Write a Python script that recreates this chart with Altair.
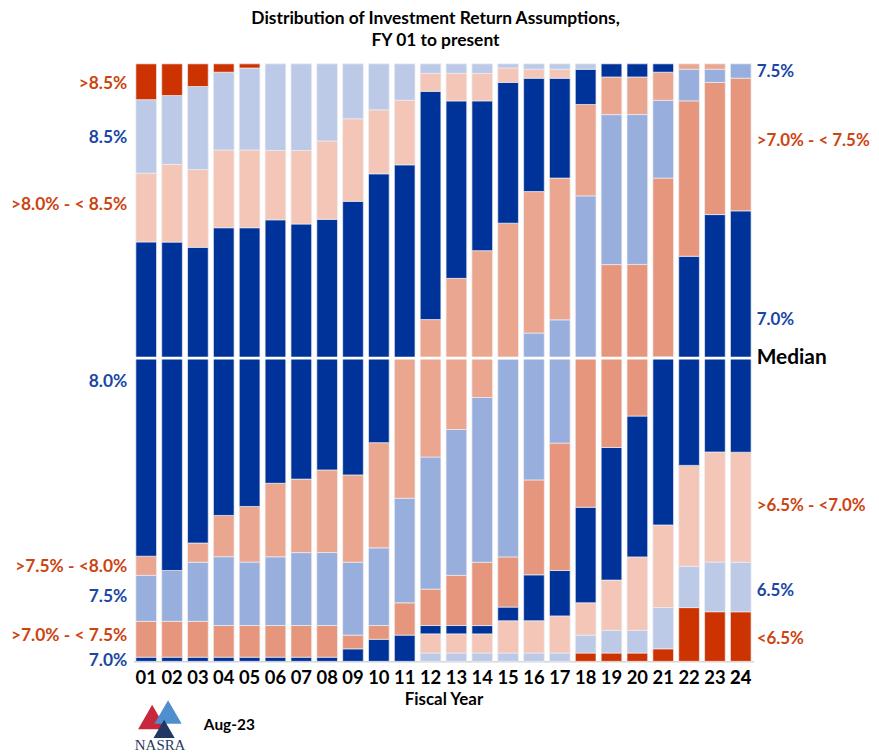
import altair as alt
import pandas as pd

years = [f"{i:02d}" for i in range(1, 25)]

categories = ["<6.5%", "6.5%", ">6.5% - <7.0%", "7.0%", ">7.0% - <7.5%", "7.5%",
              ">7.5% - <8.0%", "8.0%", ">8.0% - <8.5%", "8.5%", ">8.5%"]
cat_colors = ["#CC3300", "#BCCAE8", "#F3C6B7", "#003399", "#E6967C", "#98AEDD",
              "#EBA68F", "#003399", "#F3C6B7", "#BCCAE8", "#CC3300"]

# share of plans (%) by fiscal year 01..24
lt65 = [0] * 17 + [1.4, 1.4, 1.4, 2.1, 9.0, 8.3, 8.3]
r65 = [0] * 11 + [1.4, 1.4, 1.4, 1.4, 1.4, 1.4, 3.0, 3.8, 3.8, 6.9, 6.9, 8.3, 8.3]
r65_70 = [0] * 11 + [3.2, 3.2, 3.2, 5.4, 5.4, 6.2, 5.4, 8.4, 12.3, 13.8, 16.9, 18.4, 18.4]
r70 = [0.7] * 8 + [2.1, 3.7, 4.4, 1.4, 1.4, 1.4, 2.3, 7.7, 7.6, 16.0, 22.2, 23.6, 28.1, 35.0, 39.7, 40.4]
r70_75 = [6.0, 6.0, 6.0, 5.3, 5.3, 5.3, 5.3, 5.3, 2.3, 2.3, 5.4, 6.1, 8.4, 10.6, 8.4, 15.9, 21.3,
          25.0, 30.6, 25.4, 29.9, 26.0, 22.1, 22.2]
r75 = [7.7, 8.5, 9.9, 11.5, 10.6, 11.5, 12.2, 12.2, 12.2, 13.0, 17.5, 22.1, 24.4, 27.6, 33.2, 24.6,
       20.6, 27.1, 25.1, 25.1, 13.0, 5.3, 2.2, 2.4]
r75_80 = [3.2, 0, 3.2, 6.9, 9.3, 12.3, 12.3, 13.8, 14.6, 17.6, 23.5, 23.0, 25.3, 24.6, 22.7, 23.7,
          23.7, 15.3, 6.3, 6.3, 4.7, 0.9, 0.9, 0]
r80 = [52.6, 54.9, 49.5, 48.1, 46.6, 44.1, 42.7, 41.9, 45.8, 45.0, 32.3, 38.2, 29.7, 25.1, 23.6,
       19.0, 16.7, 5.9, 2.2, 2.2, 1.4, 0, 0, 0]
r80_85 = [11.5, 13.0, 13.0, 13.0, 13.0, 11.6, 12.3, 13.1, 13.8, 10.7, 10.8, 3.0, 4.6, 4.6, 2.4,
          1.5, 1.5, 0, 0, 0, 0, 0, 0, 0]
r85 = [12.3, 11.5, 13.9, 13.0, 13.7, 14.5, 14.5, 12.9, 9.2, 7.7, 6.1, 1.6, 1.6, 1.6, 0.7, 0.9, 0.9,
       0.9, 0, 0, 0, 0, 0, 0]
gt85 = [6.0, 5.3, 3.8, 1.4, 0.7] + [0] * 19

series = [lt65, r65, r65_70, r70, r70_75, r75, r75_80, r80, r80_85, r85, gt85]

left_labels = [">8.5%", "8.5%", ">8.0% - < 8.5%", "8.0%", ">7.5% - <8.0%", "7.5%", ">7.0% - < 7.5%", "7.0%"]
left_pos = [0.966, 0.876, 0.763, 0.468, 0.158, 0.107, 0.042, 0.0]
left_cols = ["#CC4411", "#1A47A3", "#CC4411", "#1A47A3", "#CC4411", "#1A47A3", "#CC4411", "#1A47A3"]

right_labels = ["7.5%", ">7.0% - < 7.5%", "7.0%", ">6.5% - <7.0%", "6.5%", "<6.5%"]
right_pos = [0.986, 0.871, 0.571, 0.260, 0.117, 0.038]
right_cols = ["#1A47A3", "#CC4411", "#1A47A3", "#CC4411", "#1A47A3", "#CC4411"]

median_pos = 0.5075

rows = []
for ci, (cat, vals) in enumerate(zip(categories, series)):
    for yr, v in zip(years, vals):
        if v > 0:
            rows.append({"year": yr, "cat": cat, "idx": ci, "value": v})
df = pd.DataFrame(rows)

FONT = "Lato"
yscale = alt.Scale(domain=[0, 1], nice=False, zero=True)

bars = alt.Chart(df).mark_bar(stroke="#EDEDF2", strokeWidth=0.7).encode(
    x=alt.X("year:N", sort=years,
            scale=alt.Scale(paddingInner=0.2, paddingOuter=0.1),
            axis=alt.Axis(title="Fiscal Year", labelAngle=0, labelFont=FONT, labelFontSize=18.5,
                          labelFontWeight={"condition": {"test": "datum.value == '24'", "value": 900},
                                           "value": "bold"},
                          labelColor="black", ticks=False, domainColor="#BFBFBF", domainWidth=1,
                          labelPadding=7, titleFont=FONT, titleFontSize=17, titleFontWeight="bold",
                          titleColor="black", titlePadding=5)),
    y=alt.Y("value:Q", stack="normalize", scale=yscale, axis=None),
    color=alt.Color("cat:N", scale=alt.Scale(domain=categories, range=cat_colors), legend=None),
    order=alt.Order("idx:Q", sort="ascending"),
)

median = alt.Chart(pd.DataFrame({"m": [median_pos]})).mark_rule(color="white", strokeWidth=3).encode(
    y=alt.Y("m:Q", scale=yscale, axis=None)
)

ldf = pd.DataFrame({"label": left_labels, "pos": left_pos, "col": left_cols})
rdf = pd.DataFrame({"label": right_labels, "pos": right_pos, "col": right_cols})

left_text = alt.Chart(ldf).mark_text(align="right", baseline="middle", font=FONT, fontSize=17.5,
                                     fontWeight="bold").encode(
    x=alt.value(-6),
    y=alt.Y("pos:Q", scale=yscale, axis=None),
    text="label:N",
    color=alt.Color("col:N", scale=None),
)
right_text = alt.Chart(rdf).mark_text(align="left", baseline="middle", font=FONT, fontSize=17,
                                      fontWeight="bold").encode(
    x=alt.value(627),
    y=alt.Y("pos:Q", scale=yscale, axis=None),
    text="label:N",
    color=alt.Color("col:N", scale=None),
)
median_text = alt.Chart(pd.DataFrame({"t": ["Median"], "pos": [median_pos]})).mark_text(
    align="left", baseline="middle", font=FONT, fontSize=21, fontWeight="bold", color="black"
).encode(x=alt.value(627), y=alt.Y("pos:Q", scale=yscale, axis=None), text="t:N")

title1 = alt.Chart(pd.DataFrame({"t": ["Distribution of Investment Return Assumptions,"]})).mark_text(
    align="center", baseline="middle", font=FONT, fontSize=17.5, fontWeight="bold", color="black"
).encode(x=alt.value(304), y=alt.value(-45.5), text="t:N")
title2 = alt.Chart(pd.DataFrame({"t": ["FY 01 to present"]})).mark_text(
    align="center", baseline="middle", font=FONT, fontSize=17.5, fontWeight="bold", color="black"
).encode(x=alt.value(304), y=alt.value(-22.5), text="t:N")

date_text = alt.Chart(pd.DataFrame({"t": ["Aug-23"]})).mark_text(
    align="left", baseline="middle", font=FONT, fontSize=15.5, fontWeight="bold", color="black"
).encode(x=alt.value(71), y=alt.value(665), text="t:N")

nasra_text = alt.Chart(pd.DataFrame({"t": ["NASRA"]})).mark_text(
    align="center", baseline="middle", font="Liberation Serif", fontSize=15, color="#1F3864"
).encode(x=alt.value(27), y=alt.value(685), text="t:N")

one = pd.DataFrame({"k": [0]})
tri_red = alt.Chart(one).mark_point(shape="triangle-up", filled=True, size=800, color="#C8283C",
                                     opacity=1).encode(x=alt.value(19), y=alt.value(657))
tri_blue = alt.Chart(one).mark_point(shape="triangle-up", filled=True, size=750, color="#4F8FCF",
                                      opacity=1).encode(x=alt.value(35), y=alt.value(652))
tri_navy = alt.Chart(one).mark_point(shape="triangle-up", filled=True, size=450, color="#1F3864",
                                      opacity=1).encode(x=alt.value(31), y=alt.value(669))

chart = alt.layer(
    bars, median, left_text, right_text, median_text, title1, title2,
    date_text, nasra_text, tri_red, tri_blue, tri_navy
).properties(
    width=624, height=601,
    autosize=alt.AutoSizeParams(type="none"),
    padding={"left": 126, "top": 54, "right": 118, "bottom": 90},
).configure_view(stroke=None)

chart.save("out.html", embed_options={"renderer": "svg", "actions": False})
